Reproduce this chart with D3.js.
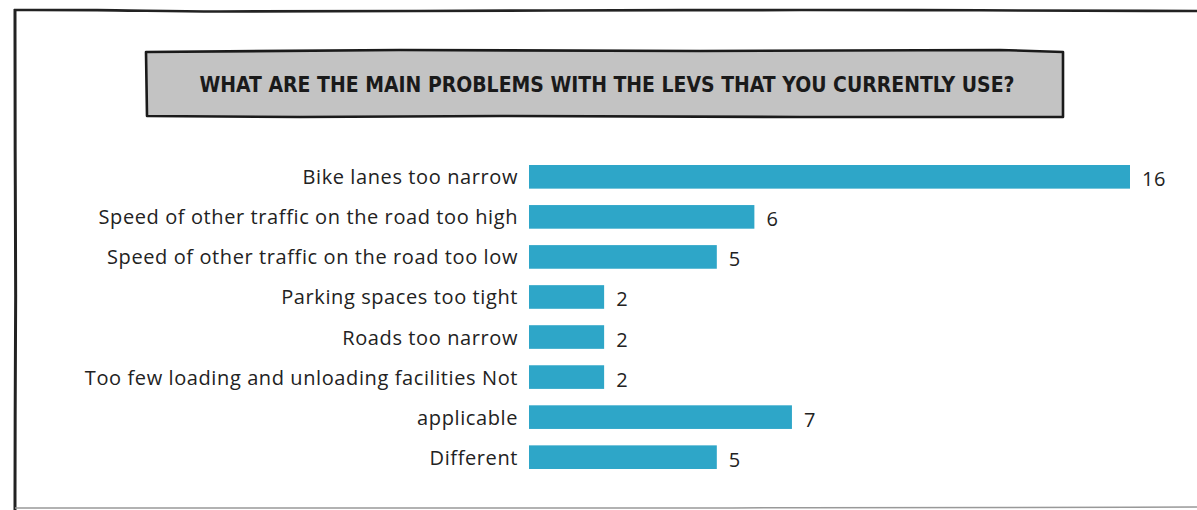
<!DOCTYPE html>
<html><head><meta charset="utf-8">
<script src="https://cdn.jsdelivr.net/npm/d3@7"></script>
<style>
html,body{margin:0;padding:0;background:#fff;}
svg{display:block;}
</style></head>
<body>
<svg id="chart" width="1197" height="510"></svg>
<script>
const titleText = "WHAT ARE THE MAIN PROBLEMS WITH THE LEVS THAT YOU CURRENTLY USE?";
const categories = [
  "Bike lanes too narrow",
  "Speed of other traffic on the road too high",
  "Speed of other traffic on the road too low",
  "Parking spaces too tight",
  "Roads too narrow",
  "Too few loading and unloading facilities Not",
  "applicable",
  "Different"
];
const values = [16, 6, 5, 2, 2, 2, 7, 5];

const svg = d3.select("#chart");

// hand-drawn frame
const line = d3.line().curve(d3.curveBasis);
svg.append("path")
  .attr("d", line([[14,10],[120,10],[200,12],[400,11],[700,10],[900,10],[1197,11]]))
  .attr("fill","none").attr("stroke","#222").attr("stroke-width",2.6);
svg.append("path")
  .attr("d", line([[15,9],[15,150],[16,300],[15,420],[15,510]]))
  .attr("fill","none").attr("stroke","#222").attr("stroke-width",3);
svg.append("path")
  .attr("d", line([[15,508],[400,508],[800,508],[1197,507]]))
  .attr("fill","none").attr("stroke","#999").attr("stroke-width",1.5);

// title box
const tb = [[146,52],[400,50],[700,51],[1000,50],[1063,52],[1063,117],[800,117],[500,116],[300,117],[147,116]];
svg.append("path")
  .attr("d", d3.line()(tb) + "Z")
  .attr("fill","#c3c3c3").attr("stroke","#1a1a1a").attr("stroke-width",2.6).attr("stroke-linejoin","round");
svg.append("text")
  .attr("x", 607).attr("y", 85)
  .attr("text-anchor","middle").attr("dominant-baseline","central")
  .attr("font-family","'DejaVu Sans Condensed','DejaVu Sans',sans-serif")
  .attr("font-weight","bold").attr("font-size",21)
  .attr("textLength", 815).attr("lengthAdjust","spacingAndGlyphs")
  .attr("fill","#1a1a1a")
  .text(titleText);

// scales
const x = d3.scaleLinear().domain([0,16]).range([529,1130]);
const y = d3.scaleBand().domain(categories).range([157,477]).paddingInner(0.41).paddingOuter(0.2);

const g = svg.append("g");
g.selectAll("rect.bar").data(values).join("rect")
  .attr("class","bar")
  .attr("x", x(0))
  .attr("y", (d,i)=>y(categories[i]))
  .attr("width", d=>x(d)-x(0))
  .attr("height", y.bandwidth())
  .attr("fill","#2ea6c8");

g.selectAll("text.cat").data(categories).join("text")
  .attr("class","cat")
  .attr("x", 518)
  .attr("y", d=>y(d)+y.bandwidth()/2)
  .attr("text-anchor","end").attr("dominant-baseline","central")
  .attr("font-family","'Open Sans',sans-serif").attr("font-size",20)
  .attr("letter-spacing","0.6px")
  .attr("fill","#222")
  .text(d=>d);

g.selectAll("text.val").data(values).join("text")
  .attr("class","val")
  .attr("x", d=>x(d)+12)
  .attr("y", (d,i)=>y(categories[i])+y.bandwidth()/2+2)
  .attr("dominant-baseline","central")
  .attr("font-family","'Open Sans',sans-serif").attr("font-size",20)
  .attr("letter-spacing","0.6px")
  .attr("fill","#222")
  .text(d=>d);
</script>
</body></html>
